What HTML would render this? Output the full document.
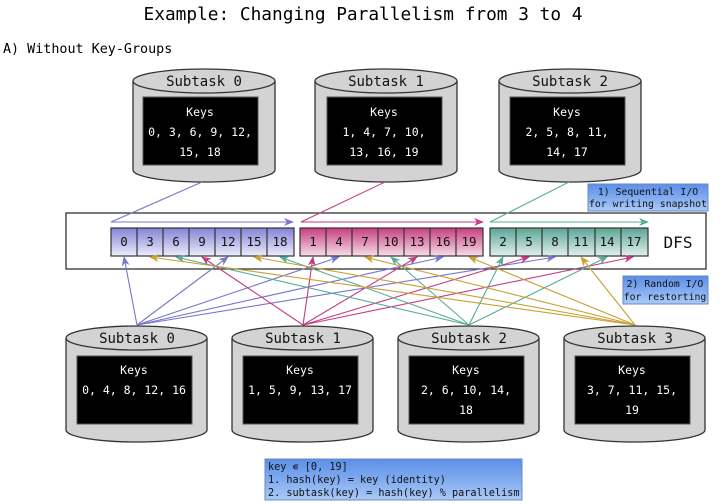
<!DOCTYPE html>
<html><head><meta charset="utf-8"><style>
html,body{margin:0;padding:0;background:#fff;}
svg{display:block;font-family:"DejaVu Sans Mono","Liberation Mono",monospace;}
</style></head><body>
<svg width="727" height="504" viewBox="0 0 727 504" xmlns="http://www.w3.org/2000/svg">
<defs>
<linearGradient id="gb" x1="0" y1="0" x2="0" y2="1"><stop offset="0" stop-color="#8383d6"/><stop offset="1" stop-color="#ececfb"/></linearGradient>
<linearGradient id="gp" x1="0" y1="0" x2="0" y2="1"><stop offset="0" stop-color="#c63e80"/><stop offset="1" stop-color="#f7dde9"/></linearGradient>
<linearGradient id="gt" x1="0" y1="0" x2="0" y2="1"><stop offset="0" stop-color="#5aa595"/><stop offset="1" stop-color="#e2f1ed"/></linearGradient>
<linearGradient id="gn" x1="0" y1="0" x2="0" y2="1"><stop offset="0" stop-color="#5a8ee8"/><stop offset="1" stop-color="#a9c9f7"/></linearGradient>
<marker id="mb" markerWidth="10" markerHeight="8" refX="9" refY="4" orient="auto" markerUnits="userSpaceOnUse"><path d="M0,0 L10,4 L0,8 L3,4 Z" fill="#7777cc"/></marker>
<marker id="mp" markerWidth="10" markerHeight="8" refX="9" refY="4" orient="auto" markerUnits="userSpaceOnUse"><path d="M0,0 L10,4 L0,8 L3,4 Z" fill="#c43c82"/></marker>
<marker id="mt" markerWidth="10" markerHeight="8" refX="9" refY="4" orient="auto" markerUnits="userSpaceOnUse"><path d="M0,0 L10,4 L0,8 L3,4 Z" fill="#5aab9a"/></marker>
<marker id="mg" markerWidth="10" markerHeight="8" refX="9" refY="4" orient="auto" markerUnits="userSpaceOnUse"><path d="M0,0 L10,4 L0,8 L3,4 Z" fill="#c9a032"/></marker>
</defs>

<text x="363" y="20" font-size="17.8" text-anchor="middle">Example: Changing Parallelism from 3 to 4</text>
<text x="3" y="53" font-size="13.4">A) Without Key-Groups</text>

<!-- top cylinders -->
<g stroke="#333" stroke-width="1.3">
<path d="M133,81 L133,170 A71,12 0 0 0 275,170 L275,81" fill="#d3d3d3"/>
<ellipse cx="204" cy="81" rx="71" ry="12" fill="#d3d3d3"/>
<path d="M315,81 L315,170 A71,12 0 0 0 457,170 L457,81" fill="#d3d3d3"/>
<ellipse cx="386" cy="81" rx="71" ry="12" fill="#d3d3d3"/>
<path d="M499,81 L499,170 A71,12 0 0 0 641,170 L641,81" fill="#d3d3d3"/>
<ellipse cx="570" cy="81" rx="71" ry="12" fill="#d3d3d3"/>
</g>
<g fill="#000" stroke="#555" stroke-width="1">
<rect x="143" y="97" width="115" height="68"/>
<rect x="327" y="97" width="115" height="68"/>
<rect x="510" y="97" width="115" height="68"/>
</g>
<g font-size="14" text-anchor="middle" fill="#111">
<text x="204" y="86">Subtask 0</text>
<text x="386" y="86">Subtask 1</text>
<text x="570" y="86">Subtask 2</text>
</g>
<g font-size="11.5" text-anchor="middle" fill="#fff">
<text x="200" y="116">Keys</text><text x="200" y="136">0, 3, 6, 9, 12,</text><text x="200" y="156">15, 18</text>
<text x="384" y="116">Keys</text><text x="384" y="136">1, 4, 7, 10,</text><text x="384" y="156">13, 16, 19</text>
<text x="567" y="116">Keys</text><text x="567" y="136">2, 5, 8, 11,</text><text x="567" y="156">14, 17</text>
</g>

<!-- DFS box -->
<rect x="66" y="213" width="640" height="56" fill="#fff" stroke="#333" stroke-width="1.3"/>
<text x="678" y="248" font-size="16" text-anchor="middle" fill="#111">DFS</text>

<!-- sequential arrows -->
<g fill="none" stroke-width="1.1">
<polyline points="202,182 111,222 293,222" stroke="#7777cc" marker-end="url(#mb)"/>
<polyline points="385,182 301,222 483,222" stroke="#c43c82" marker-end="url(#mp)"/>
<polyline points="569,182 490,222 648,222" stroke="#5aab9a" marker-end="url(#mt)"/>
</g>

<!-- cells -->
<g stroke="#333" stroke-width="1.2">
<rect x="111" y="228" width="183" height="28" fill="url(#gb)"/>
<rect x="300" y="228" width="183" height="28" fill="url(#gp)"/>
<rect x="490" y="228" width="158" height="28" fill="url(#gt)"/>
<path d="M137,228v28M163,228v28M189,228v28M215,228v28M241,228v28M267,228v28M326,228v28M352,228v28M378,228v28M404,228v28M430,228v28M456,228v28M516,228v28M542,228v28M568,228v28M595,228v28M621,228v28" fill="none"/>
</g>
<g font-size="12.5" text-anchor="middle" fill="#111">
<text x="124" y="246">0</text><text x="150" y="246">3</text><text x="176" y="246">6</text><text x="202" y="246">9</text><text x="228" y="246">12</text><text x="254" y="246">15</text><text x="280" y="246">18</text>
<text x="313" y="246">1</text><text x="339" y="246">4</text><text x="365" y="246">7</text><text x="391" y="246">10</text><text x="417" y="246">13</text><text x="443" y="246">16</text><text x="469" y="246">19</text>
<text x="503" y="246">2</text><text x="529" y="246">5</text><text x="555" y="246">8</text><text x="581" y="246">11</text><text x="607" y="246">14</text><text x="634" y="246">17</text>
</g>

<!-- restore arrows -->
<g fill="none" stroke-width="1.1">
<g stroke="#7777cc" marker-end="url(#mb)">
<line x1="137" y1="325" x2="124" y2="257"/><line x1="137" y1="325" x2="339" y2="257"/><line x1="137" y1="325" x2="555" y2="257"/><line x1="137" y1="325" x2="228" y2="257"/><line x1="137" y1="325" x2="443" y2="257"/>
</g>
<g stroke="#c43c82" marker-end="url(#mp)">
<line x1="303" y1="325" x2="313" y2="257"/><line x1="303" y1="325" x2="529" y2="257"/><line x1="303" y1="325" x2="202" y2="257"/><line x1="303" y1="325" x2="417" y2="257"/><line x1="303" y1="325" x2="633" y2="257"/>
</g>
<g stroke="#5aab9a" marker-end="url(#mt)">
<line x1="469" y1="325" x2="503" y2="257"/><line x1="469" y1="325" x2="176" y2="257"/><line x1="469" y1="325" x2="391" y2="257"/><line x1="469" y1="325" x2="607" y2="257"/><line x1="469" y1="325" x2="280" y2="257"/>
</g>
<g stroke="#c9a032" marker-end="url(#mg)">
<line x1="635" y1="325" x2="150" y2="257"/><line x1="635" y1="325" x2="365" y2="257"/><line x1="635" y1="325" x2="581" y2="257"/><line x1="635" y1="325" x2="254" y2="257"/><line x1="635" y1="325" x2="469" y2="257"/>
</g>
</g>

<!-- labels -->
<rect x="588" y="184" width="120" height="27" fill="url(#gn)" stroke="#6a8ac0" stroke-width="1"/>
<text x="648" y="195" font-size="9.8" text-anchor="middle" fill="#111">1) Sequential I/O</text>
<text x="648" y="207" font-size="9.8" text-anchor="middle" fill="#111">for writing snapshot</text>
<rect x="623" y="276" width="85" height="28" fill="url(#gn)" stroke="#6a8ac0" stroke-width="1"/>
<text x="665" y="287" font-size="9.8" text-anchor="middle" fill="#111">2) Random I/O</text>
<text x="665" y="300" font-size="9.8" text-anchor="middle" fill="#111">for restorting</text>

<!-- bottom cylinders -->
<g stroke="#333" stroke-width="1.3">
<path d="M66,338 L66,430 A70.5,12 0 0 0 207,430 L207,338" fill="#d3d3d3"/>
<ellipse cx="136.5" cy="338" rx="70.5" ry="12" fill="#d3d3d3"/>
<path d="M232,338 L232,430 A70.5,12 0 0 0 373,430 L373,338" fill="#d3d3d3"/>
<ellipse cx="302.5" cy="338" rx="70.5" ry="12" fill="#d3d3d3"/>
<path d="M398,338 L398,430 A70.5,12 0 0 0 539,430 L539,338" fill="#d3d3d3"/>
<ellipse cx="468.5" cy="338" rx="70.5" ry="12" fill="#d3d3d3"/>
<path d="M564,338 L564,430 A70.5,12 0 0 0 705,430 L705,338" fill="#d3d3d3"/>
<ellipse cx="634.5" cy="338" rx="70.5" ry="12" fill="#d3d3d3"/>
</g>
<g fill="#000" stroke="#555" stroke-width="1">
<rect x="77" y="356" width="115" height="68"/>
<rect x="243" y="356" width="115" height="68"/>
<rect x="409" y="356" width="115" height="68"/>
<rect x="575" y="356" width="115" height="68"/>
</g>
<g font-size="14" text-anchor="middle" fill="#111">
<text x="137" y="343">Subtask 0</text>
<text x="303" y="343">Subtask 1</text>
<text x="469" y="343">Subtask 2</text>
<text x="635" y="343">Subtask 3</text>
</g>
<g font-size="11.5" text-anchor="middle" fill="#fff">
<text x="134" y="374">Keys</text><text x="134" y="394">0, 4, 8, 12, 16</text>
<text x="300" y="374">Keys</text><text x="300" y="394">1, 5, 9, 13, 17</text>
<text x="466" y="374">Keys</text><text x="466" y="394">2, 6, 10, 14,</text><text x="466" y="414">18</text>
<text x="632" y="374">Keys</text><text x="632" y="394">3, 7, 11, 15,</text><text x="632" y="414">19</text>
</g>

<!-- note -->
<rect x="265" y="459" width="257" height="41" fill="url(#gn)" stroke="#6a8ac0" stroke-width="1"/>
<g font-size="10.2" fill="#111">
<text x="268" y="470">key ∊ [0, 19]</text>
<text x="268" y="483">1. hash(key) = key (identity)</text>
<text x="268" y="496">2. subtask(key) = hash(key) % parallelism</text>
</g>
</svg>
</body></html>
